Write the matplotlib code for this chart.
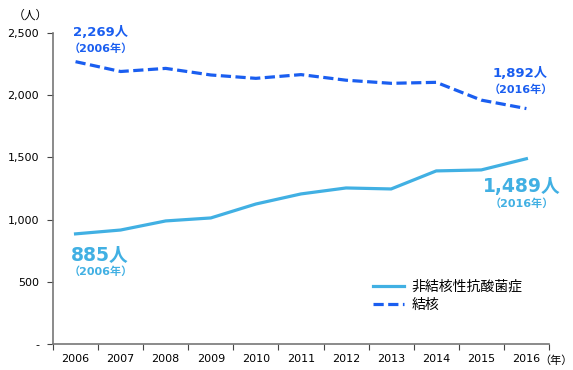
import numpy as np
import matplotlib.pyplot as plt

plt.rcParams['font.family'] = ['DejaVu Sans', 'Noto Sans CJK JP']

years = [2006, 2007, 2008, 2009, 2010, 2011, 2012, 2013, 2014, 2015, 2016]
ntm = [885, 916, 989, 1013, 1125, 1206, 1254, 1246, 1391, 1399, 1489]
tb = [2269, 2190, 2215, 2162, 2135, 2165, 2120, 2095, 2103, 1960, 1892]
ytick_vals = [0, 500, 1000, 1500, 2000, 2500]
ytick_labels = ['-', '500', '1,000', '1,500', '2,000', '2,500']

c_ntm = '#41b0e3'
c_tb = '#1a5ef0'

fig = plt.figure(figsize=(5.73, 3.70), dpi=100)
ax = fig.add_axes([0.0925, 0.0703, 0.8655, 0.8407])

ax.plot(years, ntm, color=c_ntm, lw=2.3, label='非結核性抗酸菌症')
ax.plot(years, tb, color=c_tb, lw=2.3, ls=(0, (3.2, 1.4)), label='結核')

ax.set_xlim(2005.5, 2016.5)
ax.set_ylim(0, 2500)
ax.set_yticks(ytick_vals)
ax.set_yticklabels(ytick_labels, fontsize=8)
ax.set_xticks(np.arange(2005.5, 2017, 1))
ax.set_xticklabels([])
ax.set_xticks(years, minor=True)
ax.set_xticklabels([str(y) for y in years], minor=True, fontsize=8)
ax.tick_params(axis='x', which='minor', length=0, pad=7)
ax.tick_params(axis='both', which='major', direction='out', length=4, color='#444444')
ax.tick_params(axis='y', pad=6)
for s in ['top', 'right']:
    ax.spines[s].set_visible(False)
for s in ['left', 'bottom']:
    ax.spines[s].set_color('#777777')
    ax.spines[s].set_linewidth(1.2)

fig.text(30 / 573, 1 - 15 / 370, '（人）', fontsize=8.5, ha='center', va='center')
fig.text(0.999, 1 - 361 / 370, '（年）', fontsize=8, ha='right', va='center')

# annotations
bold = dict(fontweight='bold', ha='center', va='center')
ax.text(2006.55, 2500, f'{tb[0]:,}人', color=c_tb, fontsize=9.5, **bold)
ax.text(2006.55, 2371, '（2006年）', color=c_tb, fontsize=8, **bold)
ax.text(2015.87, 2170, f'{tb[-1]:,}人', color=c_tb, fontsize=9.5, **bold)
ax.text(2015.87, 2042, '（2016年）', color=c_tb, fontsize=8, **bold)
ax.text(2006.53, 715, f'{ntm[0]:,}人', color=c_ntm, fontsize=13.5, **bold)
ax.text(2006.55, 579, '（2006年）', color=c_ntm, fontsize=8, **bold)
ax.text(2015.9, 1262, f'{ntm[-1]:,}人', color=c_ntm, fontsize=13.5, **bold)
ax.text(2015.9, 1125, '（2016年）', color=c_ntm, fontsize=8, **bold)

fig.legend(loc='upper left', bbox_to_anchor=(373 / 573, 1 - 280 / 370), frameon=False,
           fontsize=10, handlelength=2.2, handletextpad=0.6, labelspacing=0.3,
           borderpad=0, borderaxespad=0)

fig.savefig('out.png', dpi=100)
